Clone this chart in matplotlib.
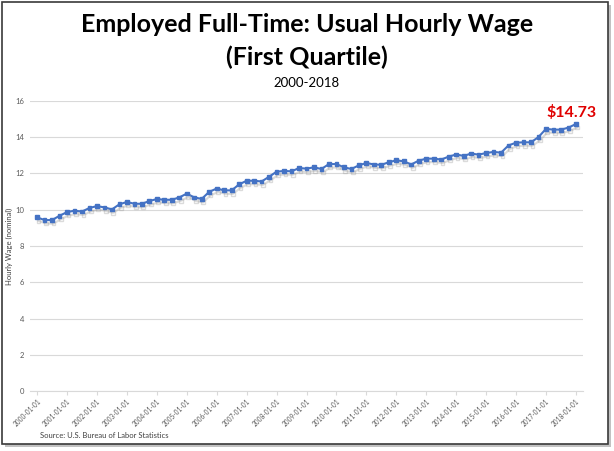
import matplotlib.pyplot as plt
import matplotlib.patheffects as pe
from matplotlib.patches import Rectangle

# quarterly data, 2000-01-01 .. 2018-01-01
years = list(range(2000, 2019))
tick_labels = ["%d-01-01" % y for y in years]
wage = [9.58, 9.43, 9.43, 9.67, 9.87, 9.95, 9.90, 10.10, 10.20, 10.13,
        10.02, 10.30, 10.43, 10.33, 10.33, 10.48, 10.59, 10.55, 10.55, 10.68,
        10.89, 10.68, 10.60, 10.99, 11.17, 11.07, 11.07, 11.40, 11.60, 11.60,
        11.56, 11.82, 12.10, 12.14, 12.12, 12.30, 12.27, 12.34, 12.25, 12.52,
        12.52, 12.34, 12.25, 12.45, 12.58, 12.50, 12.48, 12.62, 12.73, 12.67,
        12.50, 12.71, 12.82, 12.82, 12.77, 12.93, 13.05, 12.97, 13.10, 13.04,
        13.13, 13.19, 13.15, 13.55, 13.70, 13.72, 13.72, 14.01, 14.46, 14.42,
        14.42, 14.53, 14.73]
last_label = r"\$14.73"

plt.rcParams['font.family'] = ['Lato', 'DejaVu Sans']

fig = plt.figure(figsize=(6.14, 4.51), dpi=100)

# frame with shadow
fig.patches.append(Rectangle((5 / 614, 4 / 451), 606 / 614, 442 / 451, transform=fig.transFigure,
                             facecolor='#9a9a9a', edgecolor='none', alpha=0.6, zorder=-3))
fig.patches.append(Rectangle((2 / 614, 7 / 451), 606 / 614, 442 / 451, transform=fig.transFigure,
                             facecolor='white', edgecolor='#3a3a3a', linewidth=1.2, zorder=-2))

ax = fig.add_axes([30 / 614, 1 - 391 / 451, 553 / 614, 290 / 451])
ax.set_facecolor('none')

x = list(range(len(wage)))
ax.plot(x, wage, color='#4472C4', linewidth=1.5, marker='s', markersize=2.7,
        path_effects=[pe.SimpleLineShadow(offset=(1, -2.5), shadow_color='#999999', alpha=0.35),
                      pe.Normal()], zorder=3)

ax.set_ylim(0, 16)
ax.set_yticks(range(0, 17, 2))
ax.set_xlim(-0.95, len(wage) - 1 + 0.95)
ax.set_xticks(range(0, len(wage), 4))
ax.set_xticklabels(tick_labels, rotation=45, ha='right', rotation_mode='anchor')
ax.tick_params(axis='x', labelsize=4.7, colors='#595959', length=3, color='#d9d9d9', pad=2)
ax.tick_params(axis='y', labelsize=5.5, colors='#595959', length=0, pad=4)
ax.grid(axis='y', color='#d9d9d9', linewidth=0.8)
ax.set_axisbelow(True)
for s in ['top', 'right', 'left']:
    ax.spines[s].set_visible(False)
ax.spines['bottom'].set_color('#d9d9d9')
ax.set_ylabel('Hourly Wage (nominal)', fontsize=5.5, color='#404040')
ax.yaxis.set_label_coords(-17 / 553, 0.5)

ax.annotate(last_label, (x[-1], wage[-1]), xytext=(-3, 3), textcoords='offset points',
            ha='center', va='bottom', color='#E00000', fontsize=11.5, fontweight='bold')

fig.text(0.5, 1 - 24 / 451, 'Employed Full-Time: Usual Hourly Wage', ha='center', va='center',
         fontsize=18, fontweight='bold')
fig.text(0.5, 1 - 57 / 451, '(First Quartile)', ha='center', va='center',
         fontsize=18, fontweight='bold')
fig.text(0.5, 1 - 83 / 451, '2000-2018', ha='center', va='center', fontsize=9.5)
fig.text(40 / 614, 1 - 436 / 451, 'Source: U.S. Bureau of Labor Statistics', ha='left', va='center',
         fontsize=5.5, color='#404040')

fig.savefig('out.png', dpi=100)
